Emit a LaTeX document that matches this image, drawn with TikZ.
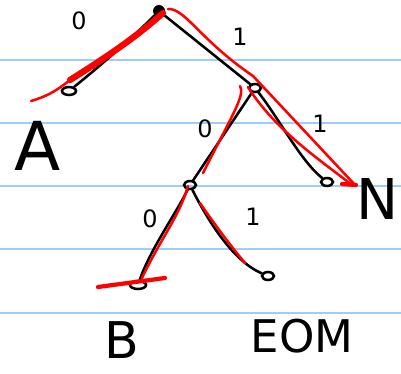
\documentclass[tikz,border=0pt]{standalone}
\usepackage{fontspec}
\setmainfont{DejaVu Sans}
\usetikzlibrary{shapes.geometric,arrows.meta}
\definecolor{rulecol}{RGB}{160,205,245}
\begin{document}
\begin{tikzpicture}[x=0.025cm,y=-0.025cm,
  ruled/.style={draw=rulecol, line width=1.2pt},
  leaf/.style={ellipse, draw=black, line width=1.8pt, minimum width=0.3cm, minimum height=0.2cm, inner sep=0pt},
  rootdot/.style={circle, fill=black, minimum size=0.3cm, inner sep=0pt},
  tedge/.style={draw=black, line width=1.8pt, line cap=round},
  redmark/.style={draw=red, line width=1.8pt, line cap=round},
  bit/.style={font=\fontsize{17}{17}\selectfont},
  word/.style={font=\fontsize{40}{40}\selectfont, inner sep=0pt}]
\useasboundingbox (0,0) rectangle (401,374);
\fill[white] (0,0) rectangle (401,374);
\foreach \y in {60,123,186,249,313} \draw[ruled] (0,\y) -- (401,\y);
% nodes
\node[rootdot] (r) at (159,11) {};
\node[leaf, minimum width=0.35cm] (a) at (69,91) {};
\node[leaf] (n1) at (255,88) {};
\node[leaf] (n2) at (190,185) {};
\node[leaf] (nn) at (327,182) {};
\node[leaf, minimum width=0.4cm] (b) at (138,285) {};
\node[leaf] (e) at (268,276) {};
% edges
\draw[tedge] (r) .. controls (135,35) and (105,62) .. (a);
\draw[tedge] (r) -- (n1);
\draw[tedge] (n1) .. controls (280,120) and (300,160) .. (nn);
\draw[tedge] (n1) -- (n2);
\draw[tedge] (n2) .. controls (175,215) and (150,250) .. (b);
\draw[tedge] (n2) .. controls (210,225) and (235,262) .. (e);
% bit labels
\node[bit] (l0) at (79,21) {0};
\node[bit] (l1) at (240,37) {1};
\node[bit] (l2) at (205,129) {0};
\node[bit] (l3) at (320,124) {1};
\node[bit] (l4) at (150,219) {0};
\node[bit] (l5) at (253,217) {1};
% symbols
\node[word, font=\fontsize{48}{48}\selectfont] (ta) at (38,146) {A};
\node[word] (tn) at (378,199) {N};
\node[word, font=\fontsize{36}{36}\selectfont] (tb) at (122,340) {B};
\node[word, font=\fontsize{32}{32}\selectfont] (te) at (302,336) {EOM};
% red annotations
\draw[redmark, line width=4.5pt] (163,13) .. controls (135,38) and (105,58) .. (70,80);
\draw[redmark] (70,80) .. controls (55,92) and (45,97) .. (31,101);
\draw[redmark] (168,9) .. controls (185,8) and (200,40) .. (253,76) -- (356,186);
\draw[redmark] (248,87) .. controls (275,130) and (320,160) .. (352,185);
\draw[redmark, line width=3pt] (342,184) -- (356,185);
\draw[redmark] (240,86) .. controls (245,95) and (235,110) .. (203,173);
\draw[redmark] (188,186) .. controls (180,215) and (160,240) .. (142,278);
\draw[redmark, line width=3pt] (98,287) -- (165,278);
\draw[redmark] (200,203) .. controls (215,225) and (230,245) .. (245,263);
\end{tikzpicture}
\end{document}
